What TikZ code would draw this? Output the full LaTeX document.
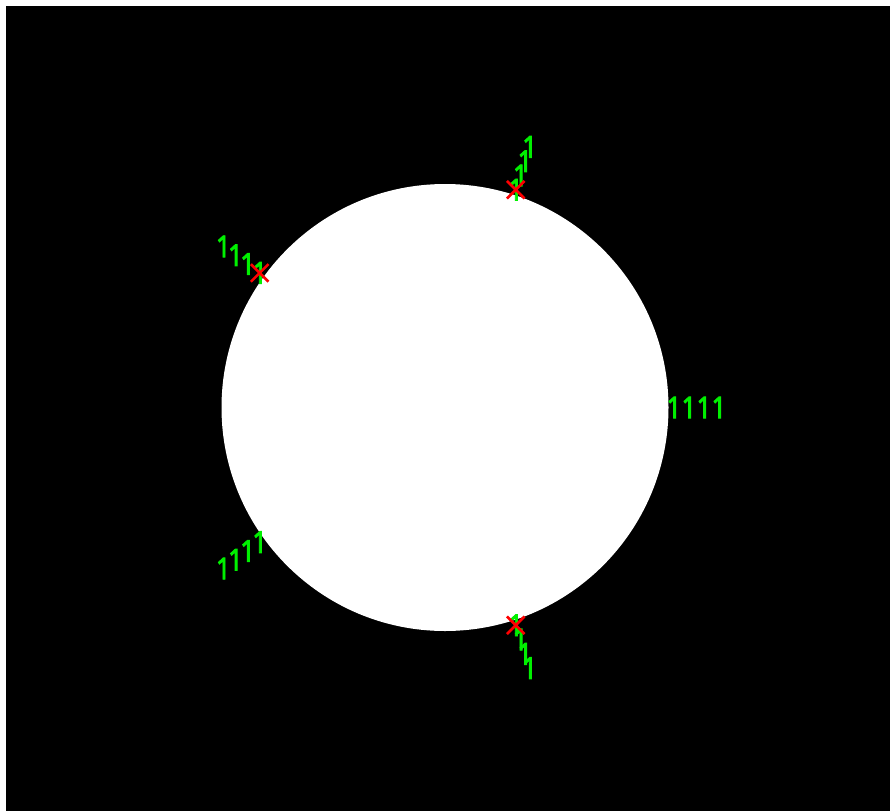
\documentclass[tikz,border=0pt]{standalone}
\usepackage{fontspec}
\setmainfont{Noto Sans}
\newfontfamily\digitfont{Noto Sans}[FakeBold=3]
\usetikzlibrary{shapes.misc,calc}
\definecolor{lblgreen}{RGB}{0,240,0}
\definecolor{mkred}{RGB}{255,0,0}
\newcommand{\onedigit}{\scalebox{0.85}[1]{1}}
\begin{document}
\begin{tikzpicture}[x=1pt,y=-1pt,
  digit/.style={text=lblgreen, inner sep=0pt, font=\digitfont\fontsize{30}{34}\selectfont},
  xmark/.style={cross out, draw=mkred, line width=2.6pt, minimum size=15pt, inner sep=0pt}]
\useasboundingbox (0,0) rectangle (890,811);
\fill[white] (0,0) rectangle (890,811);
\fill[black] (6,6) rectangle (890,811);
\node[circle, fill=white, minimum size=447pt, inner sep=0pt] (disc) at (445,407.5) {};
\foreach \a/\n in {0/r,72/t,144/ul,216/ll,288/b} {
  \foreach \k in {0,1,2,3} {
    \node[digit] (\n\k) at ($(disc.center)+({-\a}:{229+15*\k})$) {\onedigit};
  }
}
\foreach \a/\n in {72/xt,144/xul,288/xb} {
  \node[xmark] (\n) at ($(disc.center)+({-\a}:229)$) {};
}
\end{tikzpicture}
\end{document}
